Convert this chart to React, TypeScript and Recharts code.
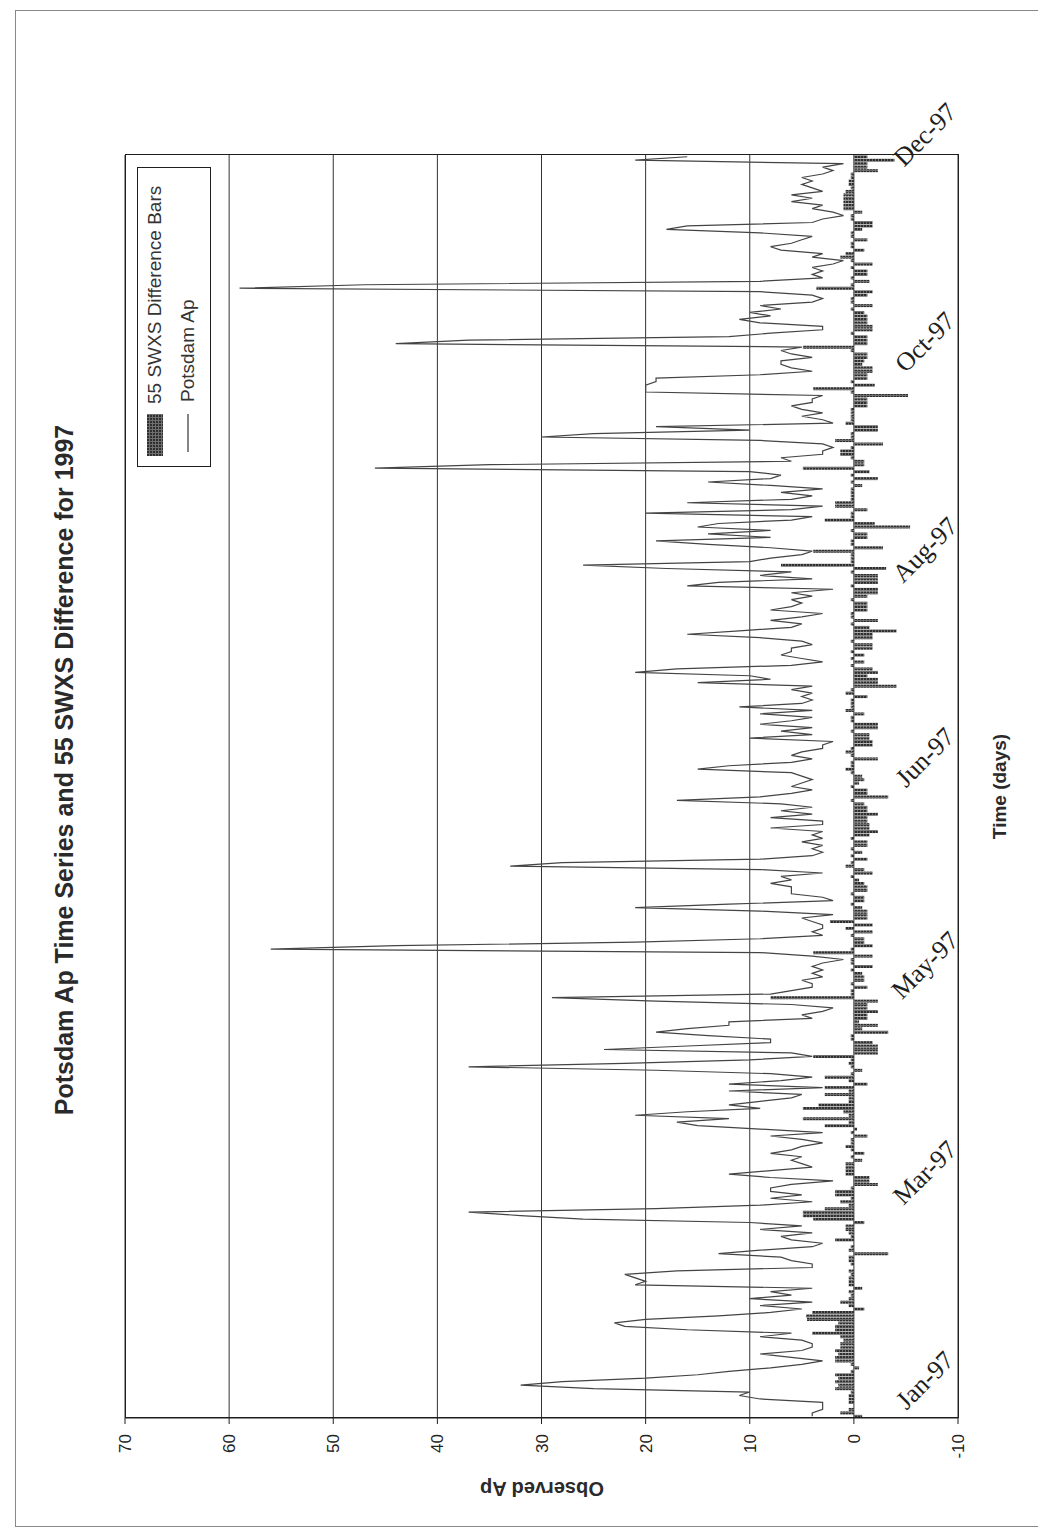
import React from "react";
import { ComposedChart, Bar, Line, XAxis, YAxis, CartesianGrid } from "recharts";

// ---- data -------------------------------------------------------------

const MONTH_NAMES = ["Jan", "Feb", "Mar", "Apr", "May", "Jun", "Jul", "Aug", "Sep", "Oct", "Nov", "Dec"];
const AP_TICKS = [-10, 0, 10, 20, 30, 40, 50, 60, 70];

// Potsdam daily Ap, 1997 (one array per quarter)
const AP_Q1 = [
  4, 4, 3, 3, 3, 9, 11, 10, 25, 32,
  28, 20, 15, 12, 8, 5, 3, 6, 9, 5,
  4, 4, 5, 9, 6, 16, 22, 23, 20, 13,
  8, 5, 9, 4, 10, 6, 8, 4, 21, 20,
  21, 22, 17, 4, 4, 6, 7, 13, 9, 4,
  3, 6, 7, 4, 9, 5, 10, 26, 32, 37,
  19, 9, 4, 8, 5, 8, 8, 6, 2, 8,
  12, 8, 4, 5, 6, 5, 8, 6, 5, 3,
  5, 8, 3, 9, 15, 17, 12, 21, 16, 9,
];
const AP_Q2 = [
  12, 9, 6, 5, 12, 3, 12, 7, 4, 8,
  19, 37, 22, 10, 4, 6, 24, 16, 8, 8,
  14, 19, 16, 12, 12, 4, 5, 3, 2, 6,
  19, 29, 8, 6, 4, 4, 5, 3, 4, 3,
  4, 3, 1, 4, 9, 56, 44, 21, 9, 3,
  4, 3, 3, 4, 5, 2, 9, 21, 12, 2,
  3, 6, 6, 6, 8, 6, 7, 3, 9, 33,
  28, 9, 4, 3, 4, 3, 5, 3, 4, 3,
  8, 3, 3, 8, 4, 7, 4, 7, 17, 9,
  6,
];
const AP_Q3 = [
  4, 6, 5, 4, 5, 6, 15, 12, 6, 4,
  6, 5, 3, 3, 2, 10, 4, 7, 4, 9,
  6, 4, 9, 4, 11, 5, 4, 5, 4, 6,
  4, 15, 8, 10, 21, 17, 6, 3, 5, 7,
  6, 6, 4, 5, 9, 16, 11, 6, 5, 8,
  5, 3, 8, 6, 5, 6, 4, 6, 2, 16,
  13, 4, 9, 6, 18, 26, 10, 8, 5, 4,
  8, 14, 19, 8, 14, 8, 15, 13, 6, 4,
  20, 6, 3, 16, 6, 4, 7, 3, 8, 14,
  8, 7,
];
const AP_Q4 = [
  10, 46, 35, 6, 7, 3, 3, 2, 3, 9,
  30, 25, 10, 19, 2, 3, 5, 3, 5, 6,
  4, 4, 3, 20, 20, 20, 19, 19, 9, 4,
  6, 7, 7, 4, 6, 7, 5, 44, 37, 12,
  8, 3, 3, 9, 11, 8, 10, 7, 9, 4,
  3, 4, 9, 59, 47, 9, 3, 4, 3, 4,
  2, 1, 4, 3, 7, 8, 6, 5, 4, 9,
  18, 16, 4, 3, 1, 2, 4, 3, 6, 4,
  6, 3, 4, 5, 4, 5, 3, 2, 3, 1,
  21, 16,
];

// 55 SWXS minus Potsdam, daily differences
const DIFF_Q1 = [
  -0.8, 1.3, 0.5, 0, 0.5, 0.5, 0.5, 0.3, 1.8, 1.5,
  1.8, 1.5, 1.8, 0.3, -0.5, 0.3, 1.8, 1.8, 1.5, 1.8,
  1.3, 1.3, 1.0, 1.3, 4, 1.8, 1.8, 1.5, 4.5, 4.6,
  4.0, -1, 0.5, 1.3, 0.5, 0.3, 0.5, -0.8, 0.5, 0.5,
  0.5, 0.3, 0.5, 0, 0.3, 0.5, 0.5, -3.3, 0.5, 0.3,
  0, 1.8, 0.3, 0.5, 0.8, 0.8, -1, 3.9, 4.9, 4.9,
  2.8, 0.5, 1.3, 0.3, 1.8, 1.8, 0.3, -2.3, -1.5, -1.5,
  0.8, 0.8, 0.8, 0.8, -0.8, 0.3, -1, 0.3, 0.8, 0.3,
  0.3, -1.3, 0.3, -0.3, 2.8, 0.5, 4.9, 0.5, 1.0, 4.9,
];
const DIFF_Q2 = [
  3.4, 0.5, 0.5, 2.8, 0.5, 2.8, -1.3, 0.5, 2.8, 0.3,
  -0.8, 0.3, 0.5, 0.3, 3.9, -2.3, -2.3, -2.3, -1.8, 0.3,
  0.3, -3.3, -0.8, -2.3, -0.5, -1.3, -1.3, -2.3, -1.3, -1.3,
  -2.3, 8, 0.3, 0.3, -1.3, 0.3, -1, -1, -0.8, 0.3,
  -1.8, 0.3, 0.3, -1.8, 3.9, 0.3, -1.8, -1, -1, 0.3,
  -1.8, 0.8, -1.8, 2.3, -1.3, -1.3, -1.3, -0.8, 0.3, -1,
  -1, 0.3, -1.3, -1.3, -1, -0.5, 0.3, -1.8, -1, 0.8,
  0.3, -1.3, 0.3, -0.8, 0.3, -1.3, -1.3, 0.3, -1.5, -2.3,
  -1.5, -1.5, -1.3, -1.3, -2.3, -1.3, -1.3, -1, 0.3, -3.3,
  -1.3,
];
const DIFF_Q3 = [
  -1.3, 0.3, -0.5, -1, -0.8, 0.3, 0.8, 0.3, 0.3, -2.3,
  0.3, 0.8, 0.3, -1.8, -1.8, -1.5, -1.5, 0.3, -2.3, -2.3,
  0.3, 0.3, -1, 0.8, 0.3, 0.3, 0.3, -1.3, 0.8, 0.3,
  -4.1, -2.3, -2.3, -1.3, -2.3, -1.8, 0.3, -1, 0.3, -1,
  0.3, -1.8, -1.8, 0.3, -1.8, -1.8, -4.1, -1.5, 0.3, -2.3,
  0.3, 0.3, -1.3, -1.3, -1.3, 0.3, -1.3, -2.3, -2.3, 0.3,
  -2.3, -2.3, -2.3, 0.3, -3.1, 7, 0.3, 0.3, 0.3, 3.9,
  -2.8, 0.3, 0.3, -1.3, -1.3, 0.3, -5.4, -2, 2.8, 0.3,
  0.3, -1.3, 1.8, 1.8, 0.3, 0.3, 0.3, 0.3, -0.8, 0.3,
  -2.3, 0.3,
];
const DIFF_Q4 = [
  -1.5, 4.9, -1, -1, 0.3, 1.3, 1.3, 0.3, -2.8, 1.8,
  0.3, 0.3, -2.3, -2.3, 0.8, 0.3, 0.3, 0.3, 0.3, -1.3,
  -1.3, -1.3, -5.2, 0.3, 3.9, -2, 0.3, -1.3, -1.3, -1.8,
  -1.8, -0.8, -1, -1.3, -1.3, 0.3, 4.9, -1.3, -1.3, -1.3,
  0.3, -1.8, -1.8, -1.3, -1.3, -1.3, -1, 0.3, -1.8, 0.3,
  0.3, -1.3, -1.8, 3.6, 0.3, -1.5, 0.3, -1.3, -1.3, 0.3,
  -1.8, 0.3, 1.3, 0.8, -1, 0.3, 0.3, -1.3, 0.3, 0.3,
  -0.8, -1.8, -1.8, 0.3, 0.3, -0.8, 1, 1, 1, 1,
  1, 0.8, 0.3, 0.5, 0.5, 0.3, 0.3, -2.3, -1.3, -1.3,
  -3.9, -1.3,
];

const AP = [...AP_Q1, ...AP_Q2, ...AP_Q3, ...AP_Q4];
const DIFF = [...DIFF_Q1, ...DIFF_Q2, ...DIFF_Q3, ...DIFF_Q4];

// "Mmm-97" label for every day of the year
const DAY_LABELS = AP.map((_, i) => {
  const d = new Date(Date.UTC(1997, 0, 1 + i));
  return `${MONTH_NAMES[d.getUTCMonth()]}-97`;
});

const rows = AP.map((ap, i) => ({ day: i, ap, diff: DIFF[i] }));

// ---- layout -----------------------------------------------------------

// The chart is laid out in landscape and turned a quarter turn anticlockwise.
const CHART_W = 1529;
const CHART_H = 1038;
const Y_AXIS_W = 60;
const X_AXIS_H = 80;
const MARGIN = { top: 125, right: 155, bottom: 0, left: 51 };
const PLOT_LEFT = MARGIN.left + Y_AXIS_W;
const PLOT_TOP = MARGIN.top;
const PLOT_W = CHART_W - MARGIN.right - PLOT_LEFT;
const PLOT_H = CHART_H - X_AXIS_H - MARGIN.top;

const SANS = "'Liberation Sans', Arial, Helvetica, sans-serif";
const SERIF = "'Liberation Serif', 'Times New Roman', serif";
const INK = "#1e1e1e";

function MonthTick(props: any) {
  const { x, y, payload } = props;
  const cx = x + 36;
  const cy = y - 33;
  return (
    <text
      x={cx}
      y={cy}
      transform={`rotate(45 ${cx} ${cy})`}
      textAnchor="middle"
      dominantBaseline="central"
      fontFamily={SERIF}
      fontSize={26}
      fill={INK}
    >
      {DAY_LABELS[payload.value]}
    </text>
  );
}

function HalftonePattern({ id }: { id: string }) {
  return (
    <pattern id={id} width="3" height="3" patternUnits="userSpaceOnUse">
      <rect width="3" height="3" fill="#6e6e6e" />
      <rect width="2" height="2" fill="#2e2e2e" />
    </pattern>
  );
}

function LegendBox() {
  return (
    <div
      style={{
        position: "absolute",
        left: 1062,
        top: 137,
        width: 300,
        height: 74,
        boxSizing: "border-box",
        border: `1.5px solid ${INK}`,
        background: "#fff",
        fontFamily: SANS,
        fontSize: 19,
        color: "#333",
      }}
    >
      <div style={{ position: "absolute", left: 10, top: 7, display: "flex", alignItems: "center" }}>
        <svg width={42} height={16} style={{ display: "block" }}>
          <defs>
            <HalftonePattern id="halftoneKey" />
          </defs>
          <rect x={0} y={0} width={42} height={16} fill="url(#halftoneKey)" />
        </svg>
        <span style={{ marginLeft: 10, whiteSpace: "nowrap", lineHeight: "20px" }}>55 SWXS Difference Bars</span>
      </div>
      <div style={{ position: "absolute", left: 14, top: 40, display: "flex", alignItems: "center" }}>
        <svg width={38} height={20} style={{ display: "block" }}>
          <line x1={0} y1={10} x2={38} y2={10} stroke="#333" strokeWidth={1.2} />
        </svg>
        <span style={{ marginLeft: 12, whiteSpace: "nowrap", lineHeight: "20px" }}>Potsdam Ap</span>
      </div>
    </div>
  );
}

export default function App() {
  return (
    <div
      style={{
        position: "absolute",
        left: 0,
        top: 0,
        width: 1038,
        height: 1529,
        overflow: "hidden",
        background: "#fff",
      }}
    >
      {/* page frame */}
      <div
        style={{
          position: "absolute",
          left: 15,
          top: 10,
          width: 1040,
          height: 1515,
          borderLeft: "1px solid #888",
          borderTop: "1px solid #888",
          borderBottom: "1px solid #888",
        }}
      />

      <div
        style={{
          position: "absolute",
          left: 0,
          top: CHART_W,
          width: CHART_W,
          height: CHART_H,
          transform: "rotate(-90deg)",
          transformOrigin: "0 0",
          fontFamily: SANS,
        }}
      >
        {/* title */}
        <div
          style={{
            position: "absolute",
            left: 0,
            top: 52,
            width: 1518,
            textAlign: "center",
            fontSize: 25,
            lineHeight: "25px",
            fontWeight: 700,
            color: "#2a2a2a",
            whiteSpace: "nowrap",
          }}
        >
          Potsdam Ap Time Series and 55 SWXS Difference for 1997
        </div>

        <ComposedChart
          width={CHART_W}
          height={CHART_H}
          data={rows}
          margin={MARGIN}
          barCategoryGap="4%"
        >
          <defs>
            <HalftonePattern id="halftone" />
          </defs>
          <CartesianGrid vertical={false} stroke="#333" strokeWidth={1} />
          <XAxis
            dataKey="day"
            type="category"
            interval={59}
            height={X_AXIS_H}
            axisLine={false}
            tickLine={false}
            tickSize={0}
            tickMargin={0}
            tick={<MonthTick />}
          />
          <YAxis
            domain={[-10, 70]}
            ticks={AP_TICKS}
            width={Y_AXIS_W}
            allowDataOverflow
            axisLine={{ stroke: INK }}
            tickLine={{ stroke: INK }}
            tickSize={6}
            tickMargin={10}
            tick={{ fontSize: 17, fill: "#222", fontFamily: SANS }}
          />
          <Bar dataKey="diff" fill="url(#halftone)" isAnimationActive={false} />
          <Line
            dataKey="ap"
            type="linear"
            stroke="#444"
            strokeWidth={1.2}
            dot={false}
            activeDot={false}
            isAnimationActive={false}
          />
        </ComposedChart>

        {/* plot frame */}
        <div
          style={{
            position: "absolute",
            left: PLOT_LEFT - 0.5,
            top: PLOT_TOP - 0.5,
            width: PLOT_W + 1,
            height: PLOT_H + 1,
            boxSizing: "border-box",
            border: `1.5px solid ${INK}`,
            pointerEvents: "none",
          }}
        />

        <LegendBox />

        {/* value axis title */}
        <div
          style={{
            position: "absolute",
            left: 40 - 150,
            top: PLOT_TOP + PLOT_H / 2 - 12,
            width: 300,
            height: 24,
            lineHeight: "24px",
            textAlign: "center",
            fontSize: 20,
            fontWeight: 700,
            color: "#2a2a2a",
            transform: "rotate(-90deg)",
          }}
        >
          Observed Ap
        </div>

        {/* time axis title */}
        <div
          style={{
            position: "absolute",
            left: PLOT_LEFT + PLOT_W / 2 - 150,
            top: 988,
            width: 300,
            height: 24,
            lineHeight: "24px",
            textAlign: "center",
            fontSize: 19,
            fontWeight: 700,
            color: "#2a2a2a",
          }}
        >
          Time (days)
        </div>
      </div>
    </div>
  );
}
